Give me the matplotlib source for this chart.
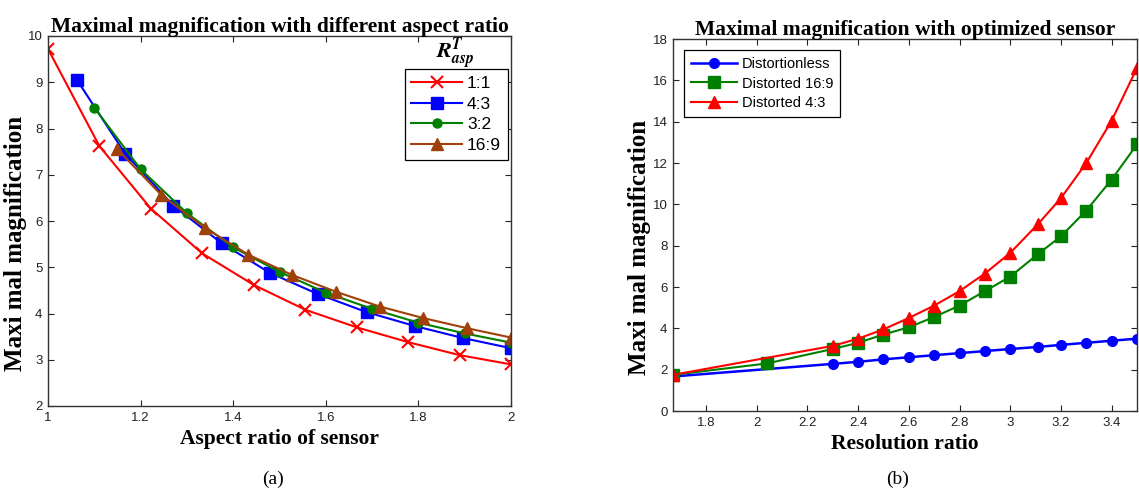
import matplotlib
matplotlib.use("Agg")
import matplotlib.pyplot as plt

plt.rcParams["mathtext.fontset"] = "stix"

# ---- Panel (a) data ----
x_11 = [1.0, 1.111, 1.222, 1.333, 1.444, 1.556, 1.667, 1.778, 1.889, 2.0]
y_11 = [9.72, 7.62, 6.27, 5.30, 4.62, 4.08, 3.70, 3.38, 3.10, 2.90]
x_43 = [1.0625, 1.167, 1.271, 1.375, 1.479, 1.583, 1.688, 1.792, 1.896, 2.0]
y_43 = [9.05, 7.45, 6.33, 5.52, 4.88, 4.42, 4.03, 3.73, 3.47, 3.25]
x_32 = [1.1, 1.2, 1.3, 1.4, 1.5, 1.6, 1.7, 1.8, 1.9, 2.0]
y_32 = [8.45, 7.12, 6.17, 5.43, 4.90, 4.45, 4.10, 3.80, 3.57, 3.37]
x_169 = [1.15, 1.244, 1.339, 1.433, 1.528, 1.622, 1.717, 1.811, 1.906, 2.0]
y_169 = [7.55, 6.57, 5.85, 5.27, 4.83, 4.47, 4.15, 3.90, 3.68, 3.48]
labels_a = ["1:1", "4:3", "3:2", "16:9"]

# ---- Panel (b) data ----
x_b = [1.67, 2.3, 2.4, 2.5, 2.6, 2.7, 2.8, 2.9, 3.0, 3.11, 3.2, 3.3, 3.4, 3.5]
y_dless = [1.67, 2.28, 2.38, 2.50, 2.60, 2.70, 2.80, 2.90, 3.00, 3.10, 3.20, 3.30, 3.40, 3.50]
x_d169 = [1.67, 2.04, 2.3, 2.4, 2.5, 2.6, 2.7, 2.8, 2.9, 3.0, 3.11, 3.2, 3.3, 3.4, 3.5]
y_d169 = [1.75, 2.30, 3.00, 3.30, 3.70, 4.05, 4.55, 5.10, 5.80, 6.50, 7.60, 8.45, 9.70, 11.20, 12.90]
y_d43 = [1.75, 3.15, 3.50, 3.95, 4.50, 5.10, 5.80, 6.65, 7.65, 9.05, 10.30, 12.00, 14.05, 16.60]
labels_b = ["Distortionless", "Distorted 16:9", "Distorted 4:3"]

W, H = 1139, 493
fig = plt.figure(figsize=(W / 100, H / 100), dpi=100)

serif = "Liberation Serif"
sans = "Liberation Sans"
brown = "#A0400A"
green = "#008000"

def box(l, t, r, b):
    return [l / W, 1 - b / H, (r - l) / W, (b - t) / H]

def style_axes(ax):
    ax.tick_params(direction="in", length=4, width=0.8, labelsize=9.5,
                   top=True, right=True, pad=4, colors="#222222")
    for lab in ax.get_xticklabels() + ax.get_yticklabels():
        lab.set_fontfamily(sans)
    for s in ax.spines.values():
        s.set_linewidth(1.0)
        s.set_color("#333333")

title_kw = dict(fontfamily=serif, fontweight="bold", fontsize=15.5)
xl_kw = dict(fontfamily=serif, fontweight="bold", fontsize=15.5)
yl_kw = dict(fontfamily=serif, fontweight="bold", fontsize=18)

# ---- Left panel ----
ax1 = fig.add_axes(box(48, 36, 511, 406))
ax1.plot(x_11, y_11, color="red", marker="x", ms=8, mew=1.5, lw=1.5, label=labels_a[0])
ax1.plot(x_43, y_43, color="blue", marker="s", ms=8, lw=1.5, label=labels_a[1])
ax1.plot(x_32, y_32, color=green, marker="o", ms=6.5, lw=1.5, label=labels_a[2])
ax1.plot(x_169, y_169, color=brown, marker="^", ms=8, lw=1.5, label=labels_a[3])
ax1.set_xlim(1, 2)
ax1.set_ylim(2, 10)
ax1.set_xticks([1, 1.2, 1.4, 1.6, 1.8, 2])
ax1.set_xticklabels(["1", "1.2", "1.4", "1.6", "1.8", "2"])
ax1.set_yticks(range(2, 11))
style_axes(ax1)
ax1.set_title("Maximal magnification with different aspect ratio", pad=3, **title_kw)
ax1.set_xlabel("Aspect ratio of sensor", labelpad=4, **xl_kw)
ax1.set_ylabel("Maxi mal magnification", **yl_kw)
ax1.yaxis.set_label_coords(-0.045, 0.44)
leg1 = ax1.legend(loc="upper right", bbox_to_anchor=(0.9935, 0.911), borderaxespad=0,
                  fancybox=False, edgecolor="black", framealpha=1,
                  prop={"family": sans, "size": 12.5},
                  handlelength=2.9, borderpad=0.4, labelspacing=0.32, handletextpad=0.3)
leg1.get_frame().set_linewidth(0.9)
ax1.text(0.879, 0.951, r"$\mathbfit{R}^{\mathbfit{T}}_{\mathbfit{asp}}$", transform=ax1.transAxes,
         ha="center", va="center", fontsize=16)

# ---- Right panel ----
ax2 = fig.add_axes(box(673, 39, 1137, 411))
ax2.plot(x_b, y_dless, color="blue", marker="o", ms=7, lw=1.8, label=labels_b[0])
ax2.plot(x_d169, y_d169, color=green, marker="s", ms=8, lw=1.5, label=labels_b[1])
ax2.plot(x_b, y_d43, color="red", marker="^", ms=8, lw=1.5, label=labels_b[2])
ax2.set_xlim(1.67, 3.5)
ax2.set_ylim(0, 18)
ax2.set_xticks([1.8, 2, 2.2, 2.4, 2.6, 2.8, 3, 3.2, 3.4])
ax2.set_xticklabels(["1.8", "2", "2.2", "2.4", "2.6", "2.8", "3", "3.2", "3.4"])
ax2.set_yticks(range(0, 19, 2))
style_axes(ax2)
ax2.set_title("Maximal magnification with optimized sensor", pad=3, **title_kw)
ax2.set_xlabel("Resolution ratio", labelpad=4, **xl_kw)
ax2.set_ylabel("Maxi mal magnification", **yl_kw)
ax2.yaxis.set_label_coords(-0.047, 0.44)
leg2 = ax2.legend(loc="upper left", bbox_to_anchor=(0.0237, 0.970), borderaxespad=0,
                  fancybox=False, edgecolor="black", framealpha=1,
                  prop={"family": sans, "size": 10.5},
                  handlelength=3.2, borderpad=0.45, labelspacing=0.4, handletextpad=0.3)
leg2.get_frame().set_linewidth(0.9)

fig.text(273 / W, 1 - 479 / H, "(a)", fontfamily=serif, fontsize=14, ha="center", va="center")
fig.text(898 / W, 1 - 479 / H, "(b)", fontfamily=serif, fontsize=14, ha="center", va="center")

fig.savefig("out.png", dpi=100)
